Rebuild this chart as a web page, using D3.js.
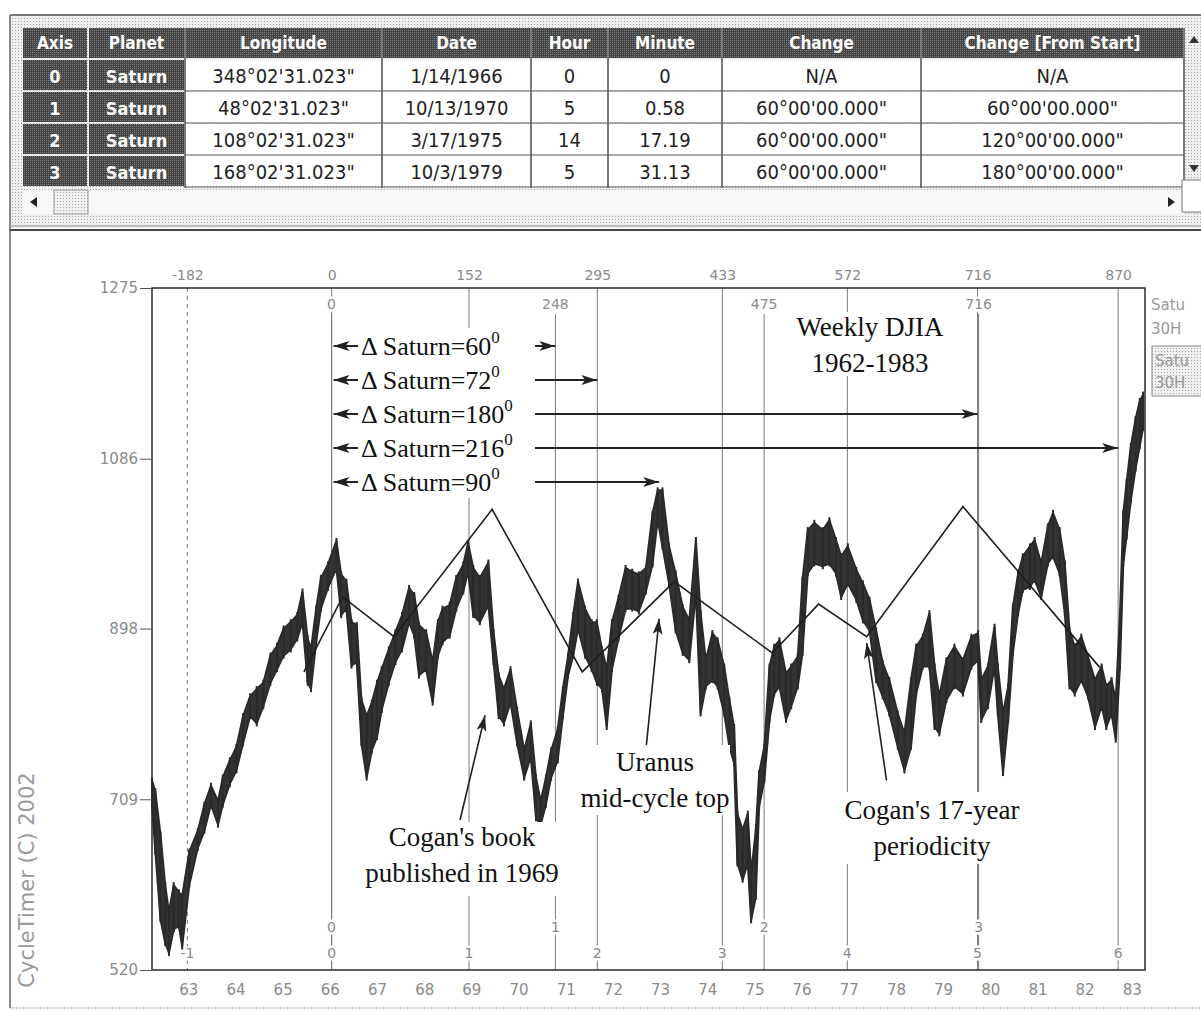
<!DOCTYPE html>
<html>
<head>
<meta charset="utf-8">
<script src="https://cdn.jsdelivr.net/npm/d3@7"></script>
<style>
  body { margin: 0; background: #fff; }
  svg { display: block; }
  text { font-family: "DejaVu Sans", sans-serif; }
  .tbl text { font-family: "DejaVu Sans Condensed", "DejaVu Sans", sans-serif; }
  .serif text { font-family: "Liberation Serif", "Times New Roman", serif; }
</style>
</head>
<body>
<div id="chart"></div>
<script>
// ---- table data (ephemeris axes) ----
const tableCols = ["Axis", "Planet", "Longitude", "Date", "Hour", "Minute", "Change", "Change [From Start]"];
const axisIds = ["0", "1", "2", "3"];
const planets = ["Saturn", "Saturn", "Saturn", "Saturn"];
const longitudes = ["348°02'31.023\"", "48°02'31.023\"", "108°02'31.023\"", "168°02'31.023\""];
const axisDates = ["1/14/1966", "10/13/1970", "3/17/1975", "10/3/1979"];
const hours = ["0", "5", "14", "5"];
const minutes = ["0", "0.58", "17.19", "31.13"];
const changes = ["N/A", "60°00'00.000\"", "60°00'00.000\"", "60°00'00.000\""];
const changesFromStart = ["N/A", "60°00'00.000\"", "120°00'00.000\"", "180°00'00.000\""];
const axisTopLabels = ["0", "248", "475", "716"];

// ---- chart data ----
const yTicks = [520, 709, 898, 1086, 1275];
const yearTicks = d3.range(1963, 1984);

// cycle lines (decimal years) with top / bottom labels
const cycleYears = [1962.98, 1966.04, 1968.95, 1971.67, 1974.32, 1976.97, 1979.73, 1982.71];
const cycleTop = ["-182", "0", "152", "295", "433", "572", "716", "870"];
const cycleBottom = ["-1", "0", "1", "2", "3", "4", "5", "6"];

// weekly DJIA, read as high / low per reading
const priceYears = [
  1962.23, 1962.30, 1962.41, 1962.51, 1962.59, 1962.69, 1962.80, 1962.87, 1963.02, 1963.20,
  1963.34, 1963.48, 1963.63, 1963.73, 1963.88, 1964.02, 1964.16, 1964.31, 1964.45, 1964.59,
  1964.74, 1964.88, 1965.02, 1965.17, 1965.31, 1965.42, 1965.53, 1965.60, 1965.71, 1965.81,
  1965.96, 1966.14, 1966.24, 1966.35, 1966.46, 1966.57, 1966.67, 1966.78, 1966.89, 1967.00,
  1967.10, 1967.25, 1967.39, 1967.53, 1967.68, 1967.79, 1967.89, 1968.04, 1968.18, 1968.29,
  1968.39, 1968.54, 1968.68, 1968.83, 1968.93, 1969.04, 1969.18, 1969.36, 1969.47, 1969.58,
  1969.69, 1969.83, 1969.97, 1970.12, 1970.26, 1970.37, 1970.47, 1970.58, 1970.69, 1970.83,
  1970.94, 1971.05, 1971.16, 1971.26, 1971.41, 1971.55, 1971.66, 1971.77, 1971.87, 1971.98,
  1972.12, 1972.27, 1972.41, 1972.55, 1972.70, 1972.84, 1972.95, 1973.05, 1973.19, 1973.33,
  1973.48, 1973.62, 1973.76, 1973.86, 1973.97, 1974.11, 1974.22, 1974.36, 1974.47, 1974.57,
  1974.64, 1974.75, 1974.86, 1974.93, 1975.03, 1975.10, 1975.21, 1975.32, 1975.42, 1975.53,
  1975.67, 1975.78, 1975.92, 1976.02, 1976.13, 1976.27, 1976.45, 1976.59, 1976.73, 1976.84,
  1976.98, 1977.16, 1977.30, 1977.44, 1977.58, 1977.72, 1977.86, 1978.04, 1978.18, 1978.32,
  1978.43, 1978.57, 1978.71, 1978.82, 1978.92, 1979.07, 1979.24, 1979.42, 1979.60, 1979.74,
  1979.81, 1979.95, 1980.09, 1980.16, 1980.27, 1980.38, 1980.48, 1980.59, 1980.69, 1980.84,
  1980.94, 1981.08, 1981.22, 1981.33, 1981.47, 1981.58, 1981.68, 1981.79, 1981.93, 1982.07,
  1982.22, 1982.36, 1982.46, 1982.57, 1982.66, 1982.75, 1982.82, 1982.89, 1982.98, 1983.08,
  1983.17, 1983.24
];
const priceHighs = [
  730, 718, 670, 614, 584, 614, 606, 602, 651, 674,
  703, 724, 707, 733, 752, 767, 801, 823, 831, 838,
  868, 879, 898, 905, 913, 939, 887, 875, 920, 954,
  969, 995, 958, 950, 905, 902, 819, 801, 816, 838,
  853, 875, 894, 913, 943, 935, 902, 894, 861, 905,
  920, 924, 954, 969, 993, 965, 954, 971, 894, 846,
  831, 853, 808, 763, 793, 733, 707, 733, 763, 786,
  831, 868, 913, 950, 920, 905, 905, 875, 853, 905,
  932, 965, 961, 958, 965, 1025, 1051, 1051, 989, 959,
  922, 907, 996, 915, 863, 893, 885, 856, 819, 789,
  693, 675, 693, 627, 675, 738, 767, 856, 878, 885,
  848, 856, 867, 952, 1007, 1015, 1007, 1018, 996, 978,
  989, 963, 948, 930, 896, 860, 841, 804, 782, 841,
  878, 889, 915, 856, 823, 863, 878, 863, 889, 893,
  841, 856, 900, 856, 804, 834, 922, 959, 978, 989,
  996, 970, 1011, 1026, 1007, 970, 896, 878, 889, 867,
  841, 856, 834, 841, 819, 915, 1026, 1060, 1100, 1130,
  1150, 1157
];
const priceLows = [
  703, 651, 576, 550, 539, 565, 569, 546, 614, 655,
  674, 703, 681, 703, 726, 741, 771, 801, 793, 812,
  838, 853, 868, 875, 887, 905, 838, 831, 883, 920,
  943, 965, 913, 920, 857, 861, 771, 733, 763, 778,
  808, 838, 861, 875, 905, 890, 846, 853, 816, 868,
  883, 890, 920, 939, 961, 913, 905, 924, 861, 801,
  793, 816, 771, 733, 756, 688, 681, 703, 733, 752,
  801, 846, 868, 898, 868, 853, 838, 831, 789, 853,
  887, 920, 920, 917, 939, 969, 1018, 989, 948, 896,
  871, 863, 937, 804, 834, 841, 834, 804, 767, 749,
  638, 620, 638, 575, 601, 701, 730, 797, 826, 834,
  797, 812, 834, 871, 959, 970, 967, 970, 959, 933,
  948, 930, 907, 896, 841, 823, 804, 767, 741, 767,
  826, 856, 856, 789, 782, 819, 834, 826, 856, 863,
  797, 812, 856, 804, 738, 797, 871, 915, 941, 944,
  952, 933, 970, 978, 959, 915, 834, 826, 841, 823,
  789, 812, 789, 804, 775, 856, 970, 1000, 1040, 1075,
  1100, 1120
];

// projected cycle (zigzag) vertices
const modelYears = [1965.45, 1966.27, 1967.36, 1969.44, 1971.35, 1973.30, 1975.38, 1976.36, 1977.38, 1979.42, 1982.32];
const modelValues = [850, 933, 889, 1030, 850, 950, 871, 925, 889, 1033, 855];

// delta-Saturn rows and the year each arrow reaches
const saturnDeltas = [60, 72, 180, 216, 90];
const saturnTargets = [1970.78, 1971.67, 1979.73, 1982.71, 1972.98];

// ---- helpers ----
const parseDate = d3.timeParse("%m/%d/%Y");
function decimalYear(s) {
  const d = parseDate(s);
  const y0 = new Date(d.getFullYear(), 0, 1), y1 = new Date(d.getFullYear() + 1, 0, 1);
  return d.getFullYear() + (d - y0) / (y1 - y0);
}
const axisYears = axisDates.map(decimalYear);

const W = 1201, H = 1014;
const svg = d3.select("#chart").append("svg").attr("width", W).attr("height", H);

// stipple patterns (scanned screen look)
const defs = svg.append("defs");
const lightP = defs.append("pattern").attr("id", "stip").attr("width", 3).attr("height", 3)
  .attr("patternUnits", "userSpaceOnUse");
lightP.append("rect").attr("width", 3).attr("height", 3).attr("fill", "#efefef");
lightP.append("rect").attr("width", 1).attr("height", 1).attr("fill", "#aaa");
const darkP = defs.append("pattern").attr("id", "dstip").attr("width", 2).attr("height", 2)
  .attr("patternUnits", "userSpaceOnUse");
darkP.append("rect").attr("width", 2).attr("height", 2).attr("fill", "#454545");
darkP.append("rect").attr("width", 1).attr("height", 1).attr("fill", "#7a7a7a");

defs.append("marker").attr("id", "head").attr("viewBox", "0 0 16 10")
  .attr("refX", 16).attr("refY", 5).attr("markerWidth", 16).attr("markerHeight", 10)
  .attr("markerUnits", "userSpaceOnUse").attr("orient", "auto")
  .append("path").attr("d", "M0,0 L16,5 L0,10 L4,5 Z").attr("fill", "#222");

// ================= table panel =================
svg.append("rect").attr("x", 10).attr("y", 15).attr("width", W - 10).attr("height", 213)
  .attr("fill", "url(#stip)");
svg.append("line").attr("x1", 10).attr("x2", W).attr("y1", 15).attr("y2", 15)
  .attr("stroke", "#777").attr("stroke-width", 2);
svg.append("line").attr("x1", 10).attr("x2", 10).attr("y1", 15).attr("y2", 1008)
  .attr("stroke", "#888").attr("stroke-width", 2);

const colX = [22, 88, 185, 382, 531, 608, 722, 921, 1184];
const headTop = 28, headH = 30, rowTop = 60, rowH = 32;
const rows = axisIds.map((id, i) => [id, planets[i], longitudes[i], axisDates[i], hours[i],
  minutes[i], changes[i], changesFromStart[i]]);

const tbl = svg.append("g").attr("class", "tbl");
tableCols.forEach((c, i) => {
  tbl.append("rect").attr("x", colX[i] + 1).attr("y", headTop)
    .attr("width", colX[i + 1] - colX[i] - 2).attr("height", headH).attr("fill", "url(#dstip)");
  tbl.append("text").attr("x", (colX[i] + colX[i + 1]) / 2).attr("y", headTop + 21)
    .attr("text-anchor", "middle").attr("fill", "#fff").attr("font-weight", "bold")
    .attr("font-size", 17).text(c);
});
rows.forEach((r, j) => {
  const ry = rowTop + j * rowH;
  r.forEach((v, i) => {
    const dark = i < 2;
    tbl.append("rect").attr("x", colX[i] + 1).attr("y", ry)
      .attr("width", colX[i + 1] - colX[i] - 2).attr("height", rowH - 2)
      .attr("fill", dark ? "url(#dstip)" : "#fff");
    tbl.append("text").attr("x", (colX[i] + colX[i + 1]) / 2).attr("y", ry + 23)
      .attr("text-anchor", "middle").attr("fill", dark ? "#fff" : "#222")
      .attr("font-weight", dark ? "bold" : "normal").attr("font-size", dark ? 18 : 20).text(v);
  });
  tbl.append("line").attr("x1", colX[2]).attr("x2", colX[8]).attr("y1", ry + rowH - 1).attr("y2", ry + rowH - 1)
    .attr("stroke", "#666");
});
colX.slice(2).forEach((cx) => {
  tbl.append("line").attr("x1", cx).attr("x2", cx).attr("y1", headTop).attr("y2", rowTop + 4 * rowH)
    .attr("stroke", "#555").attr("stroke-width", 1.5);
});

// scroll bars
const sb = svg.append("g");
sb.append("rect").attr("x", 22).attr("y", 190).attr("width", 1162).attr("height", 24)
  .attr("fill", "#f7f7f7");
sb.append("rect").attr("x", 54).attr("y", 190).attr("width", 34).attr("height", 24)
  .attr("fill", "url(#stip)").attr("stroke", "#999");
sb.append("path").attr("d", "M30,202 L37,197 L37,207 Z").attr("fill", "#222");
sb.append("path").attr("d", "M1175,202 L1168,197 L1168,207 Z").attr("fill", "#222");
sb.append("rect").attr("x", 1186).attr("y", headTop).attr("width", 15).attr("height", 150)
  .attr("fill", "url(#stip)");
sb.append("path").attr("d", "M1194,36 L1199,43 L1189,43 Z").attr("fill", "#333");
sb.append("path").attr("d", "M1194,172 L1199,165 L1189,165 Z").attr("fill", "#333");
sb.append("rect").attr("x", 1182).attr("y", 180).attr("width", 20).attr("height", 32)
  .attr("fill", "#fff").attr("stroke", "#777");

// window divider
svg.append("line").attr("x1", 10).attr("x2", W).attr("y1", 226).attr("y2", 226).attr("stroke", "#999");
svg.append("line").attr("x1", 10).attr("x2", W).attr("y1", 230).attr("y2", 230)
  .attr("stroke", "#444").attr("stroke-width", 2);
svg.append("line").attr("x1", 10).attr("x2", W).attr("y1", 1008).attr("y2", 1008)
  .attr("stroke", "#999").attr("stroke-dasharray", "2,1");

// ================= chart =================
const pLeft = 152, pRight = 1145, pTop = 288, pBottom = 970;
const x = d3.scaleLinear().domain([1962.23, 1983.28]).range([pLeft, pRight]);
const y = d3.scaleLinear().domain([520, 1275]).range([pBottom, pTop]);

const halo = (sel) => sel.attr("stroke", "#fff").attr("stroke-width", 5)
  .attr("paint-order", "stroke").attr("stroke-linejoin", "round");

// cycle lines
const gl = svg.append("g");
gl.selectAll(".cyc").data(cycleYears).join("line")
  .attr("x1", (d) => x(d)).attr("x2", (d) => x(d)).attr("y1", pTop).attr("y2", pBottom)
  .attr("stroke", "#7a7a7a").attr("stroke-width", 1)
  .attr("stroke-dasharray", (d, i) => (i === 0 ? "4,4" : null));
gl.selectAll(".ax").data(axisYears).join("line")
  .attr("x1", (d) => x(d)).attr("x2", (d) => x(d)).attr("y1", pTop + 26).attr("y2", pBottom)
  .attr("stroke", "#7a7a7a").attr("stroke-width", 1);

// price ribbon
const band = d3.area()
  .x((d, i) => x(priceYears[i]))
  .y0((d, i) => y(priceLows[i]))
  .y1((d, i) => y(priceHighs[i]));
svg.append("path").datum(priceYears).attr("d", band)
  .attr("fill", "#333").attr("stroke", "#2a2a2a").attr("stroke-width", 2);
// weekly bar texture
svg.append("g").selectAll("line").data(priceYears).join("line")
  .attr("x1", (d) => x(d)).attr("x2", (d) => x(d))
  .attr("y1", (d, i) => y(priceHighs[i]) - 3).attr("y2", (d, i) => y(priceLows[i]) + 3)
  .attr("stroke", "#2a2a2a").attr("stroke-width", 2);

// zigzag cycle model
svg.append("path").datum(modelYears)
  .attr("d", d3.line().x((d) => x(d)).y((d, i) => y(modelValues[i])))
  .attr("fill", "none").attr("stroke", "#1e1e1e").attr("stroke-width", 1.6);

// frame
svg.append("rect").attr("x", pLeft).attr("y", pTop).attr("width", pRight - pLeft).attr("height", pBottom - pTop)
  .attr("fill", "none").attr("stroke", "#2a2a2a").attr("stroke-width", 1.5);

// y axis
const yAxis = svg.append("g").attr("transform", `translate(${pLeft},0)`)
  .call(d3.axisLeft(y).tickValues(yTicks).tickSize(12).tickPadding(2).tickFormat(d3.format("d")));
yAxis.select(".domain").remove();
yAxis.selectAll("line").attr("stroke", "#555");
yAxis.selectAll("text").attr("fill", "#8a8a8a").attr("font-size", 15);

// bottom year axis
const xAxis = svg.append("g").attr("transform", `translate(0,${pBottom})`)
  .call(d3.axisBottom(x).tickValues(yearTicks).tickSize(0).tickPadding(14)
    .tickFormat((d) => String(d).slice(2)));
xAxis.select(".domain").remove();
xAxis.selectAll("text").attr("fill", "#8a8a8a").attr("font-size", 15);

// top cycle axis
const tAxis = svg.append("g").attr("transform", `translate(0,${pTop})`)
  .call(d3.axisTop(x).tickValues(cycleYears).tickSize(0).tickPadding(8)
    .tickFormat((d, i) => cycleTop[i]));
tAxis.select(".domain").remove();
tAxis.selectAll("text").attr("fill", "#8a8a8a").attr("font-size", 14);

// labels inside frame
const lab = svg.append("g").attr("font-size", 14).attr("fill", "#8a8a8a").attr("text-anchor", "middle");
lab.selectAll(".cb").data(cycleYears).join("text")
  .attr("x", (d) => x(d)).attr("y", pBottom - 12).text((d, i) => cycleBottom[i]).call(halo);
lab.selectAll(".at").data(axisYears).join("text")
  .attr("x", (d) => x(d)).attr("y", pTop + 21).text((d, i) => axisTopLabels[i]).call(halo);
lab.selectAll(".ab").data(axisYears).join("text")
  .attr("x", (d) => x(d)).attr("y", pBottom - 38).text((d, i) => axisIds[i]).call(halo);

// delta Saturn arrows
const dg = svg.append("g").attr("class", "serif");
dg.append("rect").attr("x", 358).attr("y", 328).attr("width", 174).attr("height", 170).attr("fill", "#fff");
saturnDeltas.forEach((deg, i) => {
  const ry = 346 + i * 34;
  dg.append("line").attr("x1", 358).attr("x2", x(axisYears[0]) + 2).attr("y1", ry).attr("y2", ry)
    .attr("stroke", "#222").attr("stroke-width", 2).attr("marker-end", "url(#head)");
  const t = dg.append("text").attr("x", 361).attr("y", ry + 9).attr("font-size", 26).attr("fill", "#111");
  t.append("tspan").text("Δ Saturn=" + deg);
  t.append("tspan").attr("dy", -12).attr("font-size", 17).text("0");
  dg.append("line").attr("x1", 535).attr("x2", x(saturnTargets[i])).attr("y1", ry).attr("y2", ry)
    .attr("stroke", "#222").attr("stroke-width", 2).attr("marker-end", "url(#head)");
});

// text annotations
function note(lines, cx, cy, box) {
  const g = svg.append("g").attr("class", "serif");
  g.append("rect").attr("x", box[0]).attr("y", box[1]).attr("width", box[2]).attr("height", box[3])
    .attr("fill", "#fff");
  lines.forEach((s, i) => {
    g.append("text").attr("x", cx).attr("y", cy + i * 36).attr("text-anchor", "middle")
      .attr("font-size", 27).attr("fill", "#111").text(s);
  });
}
note(["Weekly DJIA", "1962-1983"], 870, 336, [795, 312, 152, 64]);
note(["Cogan's book", "published in 1969"], 462, 846, [366, 822, 194, 74]);
note(["Uranus", "mid-cycle top"], 655, 771, [582, 745, 148, 70]);
note(["Cogan's 17-year", "periodicity"], 932, 819, [836, 792, 194, 72]);

// pointer arrows: [fromYear, fromValue, toYear, toValue]
const pointers = [
  [1968.76, 686, 1969.29, 802],
  [1972.71, 769, 1972.98, 909],
  [1977.80, 730, 1977.38, 882]
];
svg.selectAll(".ptr").data(pointers).join("line")
  .attr("x1", (d) => x(d[0])).attr("y1", (d) => y(d[1]))
  .attr("x2", (d) => x(d[2])).attr("y2", (d) => y(d[3]))
  .attr("stroke", "#222").attr("stroke-width", 1.6).attr("marker-end", "url(#head)");

// copyright, right-hand legend fragments (cut by the window edge in the source)
svg.append("text").attr("transform", "translate(34,880) rotate(-90)").attr("text-anchor", "middle")
  .attr("font-size", 21).attr("fill", "#9a9a9a").text("CycleTimer (C) 2002");
svg.append("text").attr("x", 1151).attr("y", 310).attr("font-size", 15).attr("fill", "#999").text("Satu");
svg.append("text").attr("x", 1151).attr("y", 334).attr("font-size", 15).attr("fill", "#999").text("30H");
svg.append("rect").attr("x", 1152).attr("y", 346).attr("width", 60).attr("height", 50)
  .attr("fill", "url(#stip)").attr("stroke", "#888");
svg.append("text").attr("x", 1155).attr("y", 366).attr("font-size", 15).attr("fill", "#999").text("Satu");
svg.append("text").attr("x", 1155).attr("y", 388).attr("font-size", 15).attr("fill", "#999").text("30H");
</script>
</body>
</html>
